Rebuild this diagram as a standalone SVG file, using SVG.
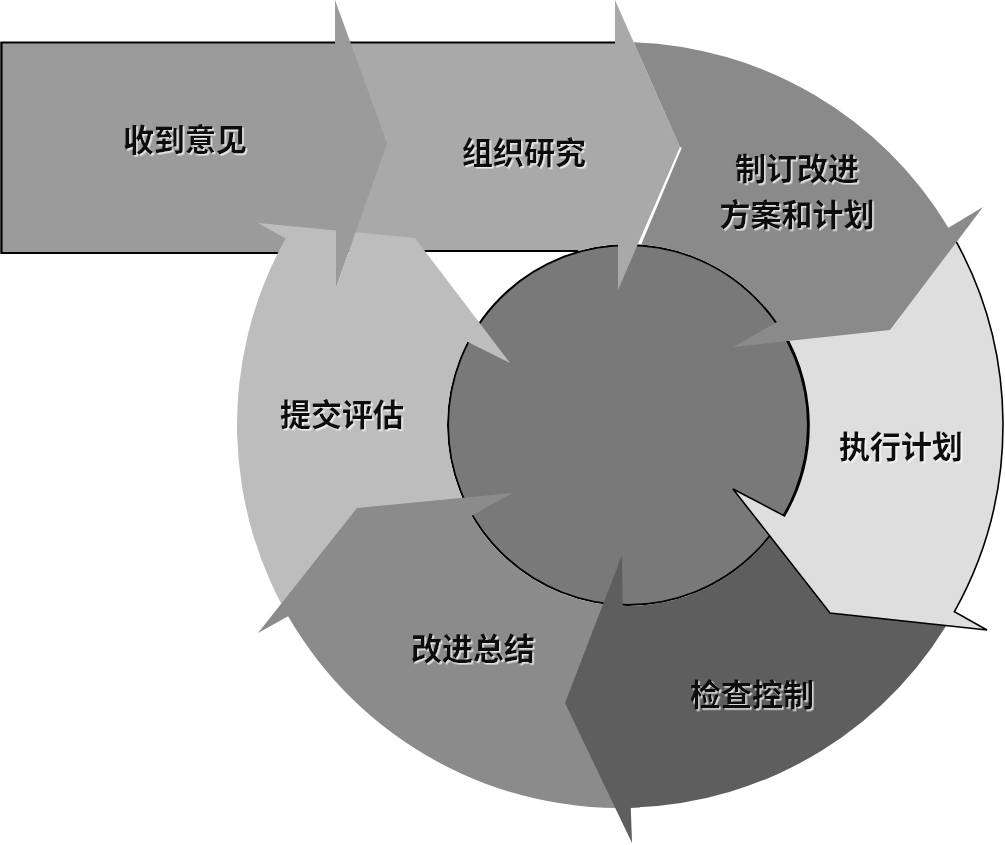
<svg xmlns="http://www.w3.org/2000/svg" width="1005" height="845" viewBox="0 0 1005 845">
<defs>
<style>
.lbl{font-family:"Noto Sans CJK SC","Noto Sans CJK TC",sans-serif;font-weight:bold;font-size:31px;fill:#111;text-anchor:middle;dominant-baseline:central;filter:url(#sh)}
.edge{fill:none;stroke:#000;stroke-width:2.2}
</style>
<filter id="sh" x="-10%" y="-30%" width="120%" height="160%">
<feDropShadow dx="1.6" dy="1.6" stdDeviation="0.6" flood-color="#ffffff" flood-opacity="0.75"/>
</filter>
</defs>
<rect width="1005" height="845" fill="#ffffff"/>

<g id="hub">
<circle cx="628" cy="425" r="180" fill="#797979" stroke="#000" stroke-width="2"/>
</g>

<g id="step2">
<path d="M 335,42 L 615,42 L 615,0 L 680,147 L 618,290 L 618,244.3 A 181 181 0 0 0 578.2,251 L 335,251 Z" fill="#a9a9a9"/>
<path class="edge" d="M 335,42.5 H 615 M 335,251 H 578"/>
<text class="lbl" x="524" y="150">组织研究</text>
</g>

<g id="step1">
<path d="M 0,42 L 335,42 L 335,0 L 387,143 L 336,288 L 336,253 L 0,253 Z" fill="#9b9b9b"/>
<path class="edge" d="M 335,42.5 H 1.5 V 253 H 336"/>
<text class="lbl" x="185" y="137">收到意见</text>
</g>

<g id="step7">
<path d="M 295.2,628 A 383 383 0 0 1 285.6,238.4 L 258,223 L 336,230.5 L 336,288 L 355.6,232.3 L 415,238 L 510,363 L 467.3,341.7 A 181 181 0 0 0 476.2,523.6 Z" fill="#bdbdbd"/>
<text class="lbl" x="342" y="412">提交评估</text>
</g>

<g id="step6">
<path d="M 640,807.5 A 383 383 0 0 1 288.2,616.3 L 258,633 L 357,508 L 512,493 L 471.5,515.9 A 181 181 0 0 0 634.3,605.9 Z" fill="#8b8b8b"/>
<text class="lbl" x="473" y="646">改进总结</text>
</g>

<g id="step5">
<path d="M 958.2,604.8 A 383 383 0 0 1 630.8,807.8 L 632,843 L 565,703 L 622,555 L 622.6,605.9 A 181 181 0 0 0 792,501.5 Z" fill="#5e5e5e"/>
<text class="lbl" x="752" y="692">检查控制</text>
</g>

<g id="step4">
<path d="M 951.1,232.5 A 383 383 0 0 1 954.4,611.7 L 987,630 L 830,613 L 733,489 L 784.5,515.9 A 181 181 0 0 0 765.6,307.5 Z" fill="#dedede" stroke="#000" stroke-width="1.6" stroke-linejoin="miter"/>
<text class="lbl" x="901" y="444">执行计划</text>
</g>

<g id="step3">
<path d="M 633.7,42.2 A 383 383 0 0 1 948.4,227.8 L 983,207 L 890,330 L 733,347 L 776.9,322.1 A 181 181 0 0 0 641.2,244.5 L 681.8,147.8 L 680,147 Z" fill="#8a8a8a"/>
<text class="lbl" x="797" y="166">制订改进</text>
<text class="lbl" x="797" y="212">方案和计划</text>
</g>

<g id="connectors"></g>
</svg>
